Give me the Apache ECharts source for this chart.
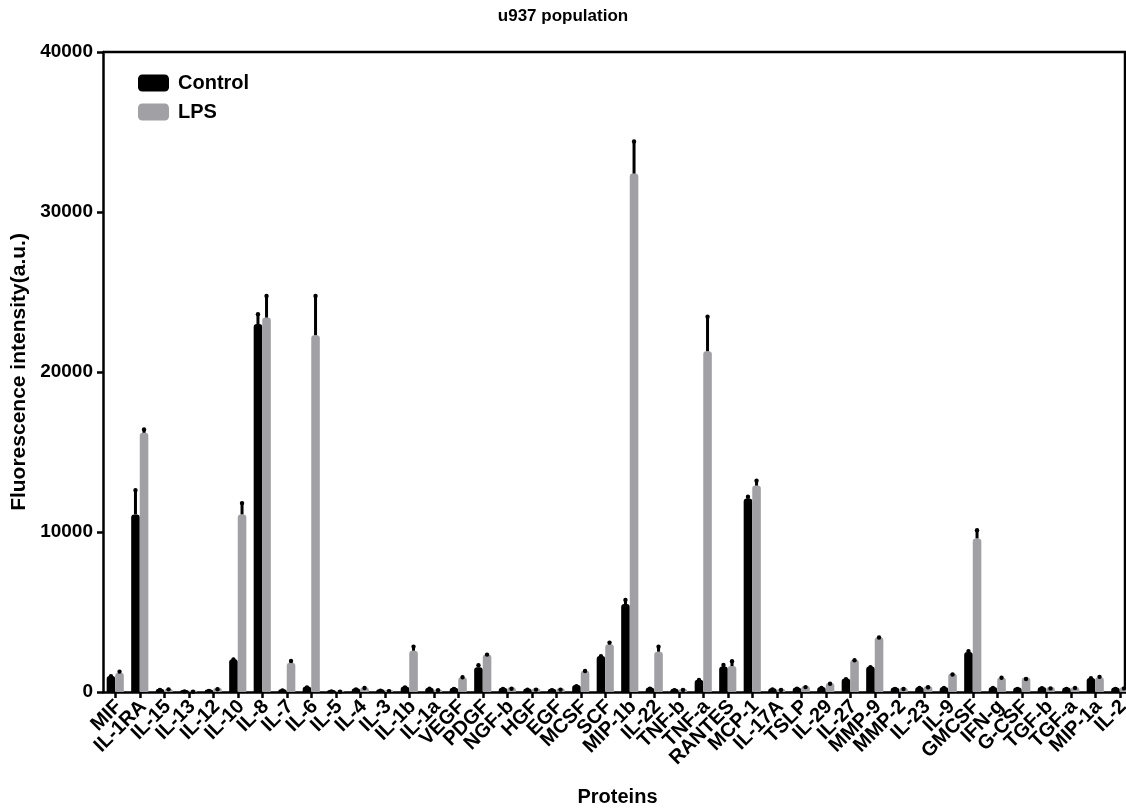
<!DOCTYPE html>
<html>
<head>
<meta charset="utf-8">
<script src="https://cdn.jsdelivr.net/npm/echarts@6/dist/echarts.min.js"></script>
<style>
html,body{margin:0;padding:0;background:#fff;}
#chart{width:1126px;height:810px;}
</style>
</head>
<body>
<div id="chart"></div>
<script>
const categories = ['MIF','IL-1RA','IL-15','IL-13','IL-12','IL-10','IL-8','IL-7','IL-6','IL-5','IL-4','IL-3','IL-1b','IL-1a','VEGF','PDGF','NGF-b','HGF','EGF','MCSF','SCF','MIP-1b','IL-22','TNF-b','TNF-a','RANTES','MCP-1','IL-17A','TSLP','IL-29','IL-27','MMP-9','MMP-2','IL-23','IL-9','GMCSF','IFN-g','G-CSF','TGF-b','TGF-a','MIP-1a','IL-2'];

const controlValues = [1000,11100,200,120,150,2050,23000,170,350,120,230,170,350,270,270,1550,260,220,200,430,2250,5500,280,200,770,1600,12100,240,280,320,840,1600,280,320,320,2500,320,280,320,280,880,280];
const controlErr    = [80,1600,20,10,10,80,700,20,30,10,20,10,30,30,20,220,20,10,10,30,80,350,20,10,80,180,200,10,20,20,60,50,10,20,20,150,20,10,10,10,80,10];

const lpsValues = [1200,16200,200,100,260,11100,23400,1830,22300,100,290,140,2580,170,920,2350,290,230,230,1330,2980,32400,2520,210,21300,1620,12900,210,370,560,2020,3420,270,380,1150,9600,900,900,310,320,920,310];
const lpsErr    = [170,300,60,10,10,800,1450,200,2550,10,50,10,350,30,100,80,10,10,10,80,200,2100,400,10,2250,400,400,10,30,50,60,80,10,10,40,600,80,10,10,30,120,10];

const yTicks = [0,10000,20000,30000,40000];

const FONT = "'Liberation Sans', Arial, Helvetica, sans-serif";
const BLACK = '#000000';
const GRAY = '#a1a1a5';
const BAR_FRAC = 0.35;

function errData(vals, errs){
  return vals.map((v,i)=>[i, v+errs[i], v]);
}
function errRenderer(sign){
  return function(params, api){
    const i = api.value(0);
    const top = api.coord([i, api.value(1)]);
    const base = api.coord([i, api.value(2)]);
    const band = api.size([1,0])[0];
    const x = top[0] + sign*band*BAR_FRAC/2;
    return {
      type:'group',
      children:[
        {type:'line', shape:{x1:x,y1:base[1],x2:x,y2:top[1]+1}, style:{stroke:'#000',lineWidth:3,lineCap:'butt'}},
        {type:'circle', shape:{cx:x, cy:top[1]+1.5, r:2.2}, style:{fill:'#000'}}
      ]
    };
  };
}

const chart = echarts.init(document.getElementById('chart'), null, {renderer:'canvas'});
chart.setOption({
  animation:false,
  backgroundColor:'#fff',
  title:{
    text:'u937 population', left:'center', top:3,
    textStyle:{fontFamily:FONT, fontWeight:'bold', fontSize:17, color:'#000'}
  },
  legend:{
    data:['Control','LPS'], orient:'vertical', left:133, top:68,
    itemWidth:31, itemHeight:17, itemGap:9, icon:'roundRect',
    textStyle:{fontFamily:FONT, fontWeight:'bold', fontSize:20, color:'#000', padding:[0,0,0,4]}
  },
  grid:{left:103, top:52, width:42*24.5, height:640, containLabel:false, outerBoundsMode:'none'},
  xAxis:{
    type:'category', data:categories, boundaryGap:true,
    name:'Proteins', nameLocation:'middle', nameGap:95,
    nameTextStyle:{fontFamily:FONT, fontWeight:'bold', fontSize:20, color:'#000'},
    axisLine:{show:true, lineStyle:{color:'#000', width:2.5}},
    axisTick:{show:true, alignWithLabel:true, length:6, lineStyle:{color:'#000', width:2.5}},
    axisLabel:{interval:0, rotate:45, margin:8, verticalAlign:'top', lineHeight:10, fontFamily:FONT, fontWeight:'bold', fontSize:20, color:'#000'},
    splitLine:{show:false}
  },
  yAxis:{
    type:'value', min:yTicks[0], max:yTicks[yTicks.length-1], interval:10000,
    name:'Fluorescence intensity(a.u.)', nameLocation:'middle', nameGap:73,
    nameTextStyle:{fontFamily:FONT, fontWeight:'bold', fontSize:21, color:'#000'},
    axisLine:{show:true, lineStyle:{color:'#000', width:2.5}},
    axisTick:{show:true, length:6, lineStyle:{color:'#000', width:2.5}},
    axisLabel:{margin:10, fontFamily:FONT, fontWeight:'bold', fontSize:19, color:'#000', formatter:(v)=>String(v)},
    splitLine:{show:false}
  },
  graphic:[
    {type:'line', shape:{x1:103,y1:52,x2:1126,y2:52}, style:{stroke:'#000',lineWidth:2.5}, z:100},
    {type:'line', shape:{x1:1125,y1:52,x2:1125,y2:692}, style:{stroke:'#000',lineWidth:2.5}, z:-1}
  ],
  series:[
    {name:'Control', type:'bar', data:controlValues, barWidth:(BAR_FRAC*100)+'%', barGap:'0%',
      itemStyle:{color:BLACK, borderRadius:[3,3,0,0]}, z:3},
    {name:'LPS', type:'bar', data:lpsValues, barWidth:(BAR_FRAC*100)+'%', barGap:'0%',
      itemStyle:{color:GRAY, borderRadius:[3,3,0,0]}, z:3},
    {name:'ControlErr', type:'custom', data:errData(controlValues, controlErr),
      renderItem:errRenderer(-1), encode:{x:0, y:[1,2]}, z:4, silent:true},
    {name:'LPSErr', type:'custom', data:errData(lpsValues, lpsErr),
      renderItem:errRenderer(1), encode:{x:0, y:[1,2]}, z:4, silent:true}
  ]
});
</script>
</body>
</html>
